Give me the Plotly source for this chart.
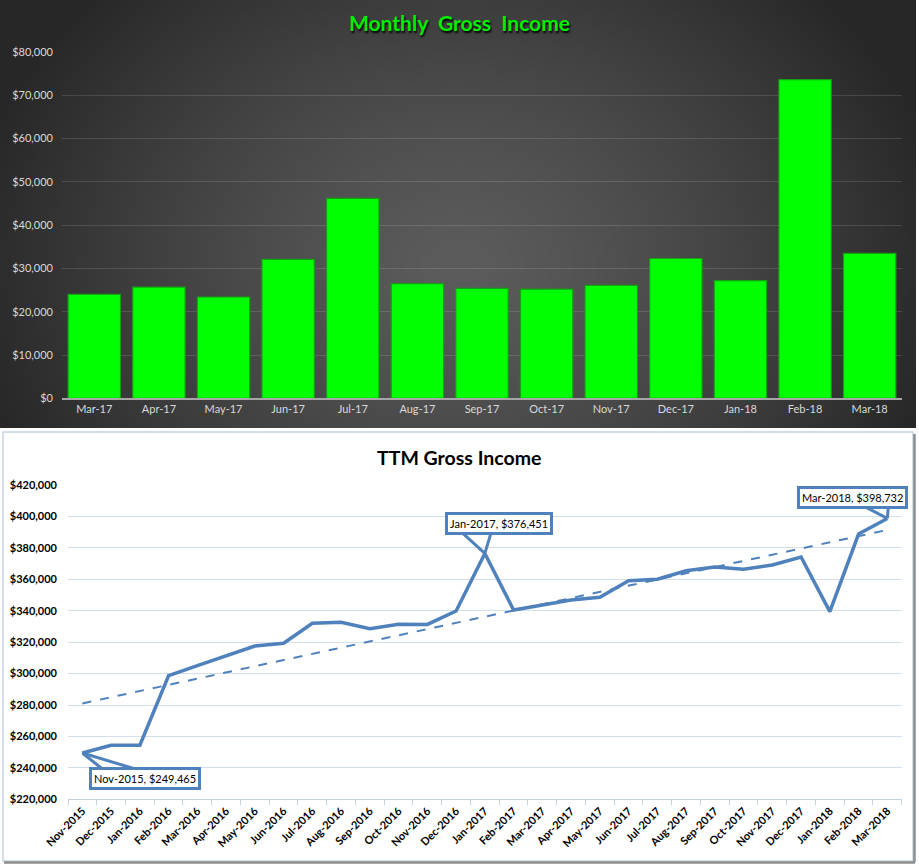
import base64, struct, zlib
import numpy as np
import plotly.graph_objects as go

# ---------------- data ----------------
monthly_labels = ["Mar-17", "Apr-17", "May-17", "Jun-17", "Jul-17", "Aug-17", "Sep-17",
                  "Oct-17", "Nov-17", "Dec-17", "Jan-18", "Feb-18", "Mar-18"]
monthly_income = [24000, 25700, 23400, 32100, 46200, 26500, 25400,
                  25200, 26100, 32300, 27200, 73600, 33500]

ttm_labels = ["Nov-2015", "Dec-2015", "Jan-2016", "Feb-2016", "Mar-2016", "Apr-2016",
              "May-2016", "Jun-2016", "Jul-2016", "Aug-2016", "Sep-2016", "Oct-2016",
              "Nov-2016", "Dec-2016", "Jan-2017", "Feb-2017", "Mar-2017", "Apr-2017",
              "May-2017", "Jun-2017", "Jul-2017", "Aug-2017", "Sep-2017", "Oct-2017",
              "Nov-2017", "Dec-2017", "Jan-2018", "Feb-2018", "Mar-2018"]
ttm_income = [249465, 254400, 254400, 298650, 305000, 311000,
              317500, 319300, 332000, 332600, 328600, 331400,
              331300, 339800, 376451, 340450, 343600, 346800,
              348500, 359100, 360000, 365450, 367800, 366350,
              369100, 374200, 339400, 388800, 398732]
callout_points = ["Nov-2015", "Jan-2017", "Mar-2018"]

W, H = 919, 864

# ---------------- dark gradient background as PNG ----------------
def make_png(arr):
    h, w, _ = arr.shape
    raw = b"".join(b"\x00" + arr[i].astype(np.uint8).tobytes() for i in range(h))
    def chunk(tag, data):
        return (struct.pack(">I", len(data)) + tag + data +
                struct.pack(">I", zlib.crc32(tag + data) & 0xffffffff))
    png = (b"\x89PNG\r\n\x1a\n" +
           chunk(b"IHDR", struct.pack(">IIBBBBB", w, h, 8, 2, 0, 0, 0)) +
           chunk(b"IDAT", zlib.compress(raw, 9)) + chunk(b"IEND", b""))
    return "data:image/png;base64," + base64.b64encode(png).decode()

gw, gh = 230, 107
yy, xx = np.mgrid[0:gh, 0:gw]
u = xx / (gw - 1)
v = yy / (gh - 1)
r = np.sqrt(((u - 0.5) / 0.55) ** 2 + ((v - 0.62) / 0.95) ** 2)
r = np.clip(r, 0, 1)
val = 0x5c - (0x5c - 0x27) * r ** 1.3
img = np.stack([val, val, val], axis=-1)
bg_uri = make_png(img)

# ---------------- figure ----------------
fig = go.Figure()

fig.add_trace(go.Bar(
    x=monthly_labels, y=monthly_income, xaxis="x", yaxis="y",
    marker=dict(color="#00ff00", line=dict(color="#14a014", width=1.2)),
    hoverinfo="x+y", showlegend=False,
))

fig.add_trace(go.Scatter(
    x=ttm_labels, y=ttm_income, xaxis="x2", yaxis="y2", mode="lines",
    line=dict(color="#4f81bd", width=3.5), showlegend=False,
))

idx = np.arange(len(ttm_income))
coef = np.polyfit(idx, ttm_income, 1)
trend = np.polyval(coef, idx)
fig.add_trace(go.Scatter(
    x=ttm_labels, y=trend, xaxis="x2", yaxis="y2", mode="lines",
    line=dict(color="#4f81bd", width=2, dash="dash"), showlegend=False,
))

FAM = "Lato, 'Open Sans', sans-serif"
top_font = dict(family=FAM, size=11, color="#d9d9d9")
bot_font = dict(family=FAM, size=11, color="#000000", weight="bold")

fig.update_layout(
    width=W, height=H,
    margin=dict(l=0, r=0, t=0, b=0, autoexpand=False),
    paper_bgcolor="white",
    plot_bgcolor="rgba(0,0,0,0)",
    bargap=0.19,
    xaxis=dict(domain=[62 / W, 902 / W], anchor="y", type="category", automargin=False,
               range=[-0.5, len(monthly_labels) - 0.5],
               tickfont=top_font, showgrid=False, showline=True,
               linecolor="#a6a6a6", linewidth=1.5, ticks=""),
    yaxis=dict(domain=[1 - 398.3 / H, 1 - 52 / H], anchor="x", range=[0, 80000],
               automargin=False,
               tickvals=list(range(0, 80001, 10000)), tickformat="$,.0f",
               tickfont=top_font, gridcolor="rgba(255,255,255,0.13)", gridwidth=1,
               zeroline=False, ticks="", ticklabelstandoff=8),
    xaxis2=dict(domain=[68 / W, 901.7 / W], anchor="y2", type="category", automargin=False,
                range=[-0.5, len(ttm_labels) - 0.5],
                tickfont=dict(family=FAM, size=11, color="#000000", weight="bold"),
                tickangle=-45, showgrid=False, showline=True, linecolor="#c3d1e1",
                linewidth=1, ticks="outside", tickson="boundaries", ticklen=5,
                tickcolor="#c3d1e1"),
    yaxis2=dict(domain=[1 - 799.3 / H, 1 - 485 / H], anchor="x2", automargin=False,
                range=[220000, 420000], tickvals=list(range(220000, 420001, 20000)),
                tickformat="$,.0f", tickfont=bot_font, gridcolor="#d3dfed",
                gridwidth=1, zeroline=False, ticks="", ticklabelstandoff=10),
    font=dict(family=FAM),
)

# background of the top panel
fig.add_layout_image(dict(
    source=bg_uri, xref="paper", yref="paper", x=0, y=1,
    sizex=916 / W, sizey=428 / H, xanchor="left", yanchor="top",
    sizing="stretch", layer="below", opacity=1,
))

# bottom panel frame
fig.add_shape(type="rect", xref="paper", yref="paper",
              x0=3 / W, x1=913 / W, y0=3 / H, y1=1 - 432 / H,
              line=dict(color="#c6d4e4", width=1.5), fillcolor="rgba(0,0,0,0)", layer="below")
fig.add_shape(type="line", xref="paper", yref="paper",
              x0=914.5 / W, x1=914.5 / W, y0=2 / H, y1=1 - 434 / H,
              line=dict(color="#8c8c8c", width=2.5))
fig.add_shape(type="line", xref="paper", yref="paper",
              x0=4 / W, x1=915 / W, y0=1.5 / H, y1=1.5 / H,
              line=dict(color="#8c8c8c", width=2.5))

# titles
fig.add_annotation(text="Monthly  Gross  Income", xref="paper", yref="paper",
                   x=459 / W, y=1 - 23 / H, showarrow=False,
                   xanchor="center", yanchor="middle",
                   font=dict(family=FAM, size=21, color="#00ee00", weight="bold",
                             shadow="1px 2px 2px #000000"))
fig.add_annotation(text="TTM Gross Income", xref="paper", yref="paper",
                   x=459 / W, y=1 - 457 / H, showarrow=False,
                   xanchor="center", yanchor="middle",
                   font=dict(family=FAM, size=19.5, color="#000000", weight="bold"))

# callouts: box offset (px, right/down) and wedge base points (px offsets from the point)
box_offsets = {"Nov-2015": (63, 25), "Jan-2017": (14, -30), "Mar-2018": (-35, -21)}
wedges = {"Nov-2015": [(20, 16), (53, 16)],
          "Jan-2017": [(-22, -20), (6, -20)],
          "Mar-2018": [(-23, -12), (1, -12)]}
for lab in callout_points:
    i = ttm_labels.index(lab)
    val_i = ttm_income[i]
    for dx, dy in wedges[lab]:
        fig.add_shape(type="line", xref="x2", yref="y2",
                      xsizemode="pixel", ysizemode="pixel",
                      xanchor=i, yanchor=val_i,
                      x0=0, y0=0, x1=dx, y1=-dy,
                      line=dict(color="#4f81bd", width=3))
    bx, by = box_offsets[lab]
    fig.add_annotation(
        x=lab, y=val_i, xref="x2", yref="y2", showarrow=False,
        xshift=bx, yshift=-by, xanchor="center", yanchor="middle",
        text=f"{lab}, ${val_i:,.0f}",
        bgcolor="white", bordercolor="#4f81bd", borderwidth=3, borderpad=2,
        font=dict(family=FAM, size=11, color="#000000"),
    )

fig.write_html("out.html")
